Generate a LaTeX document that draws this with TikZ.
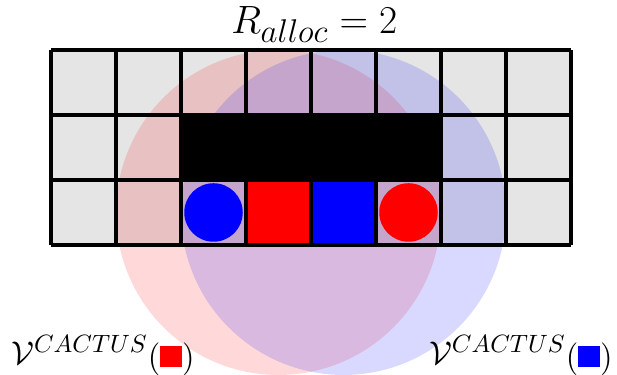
\documentclass[tikz,border=0pt]{standalone}
\usepackage{amsmath}
\newcommand{\tokbox}[1]{\raisebox{-1.2pt}{$(\textcolor{#1}{\rule{0.62em}{0.62em}})$}}
\begin{document}
\begin{tikzpicture}[x=1cm,y=1cm,
  cellfill/.style={fill=black!10},
  gridline/.style={line width=1.4pt, black},
  zone/.style={opacity=0.15},
  lbl/.style={inner sep=0pt, font=\fontsize{15.3}{18}\selectfont},
  ttl/.style={inner sep=0pt, font=\fontsize{19}{22}\selectfont}]
\useasboundingbox (-0.785,-2.0) rectangle (8.708,3.769);
% grey cells
\fill[cellfill] (0,0) rectangle (8,3);
% vulnerability zones
\fill[red,zone] (3.5,0.5) circle (2.5);
\fill[blue,zone] (4.5,0.5) circle (2.5);
% obstacle
\fill[black] (2,1) rectangle (6,2);
% tokens
\fill[red] (3,0) rectangle (4,1);
\fill[blue] (4,0) rectangle (5,1);
\node[circle, fill=blue, minimum size=0.9cm, inner sep=0pt] (bc) at (2.5,0.5) {};
\node[circle, fill=red, minimum size=0.9cm, inner sep=0pt] (rc) at (5.5,0.5) {};
% grid
\draw[gridline] (0,0) grid (8,3);
% labels
\node[ttl, anchor=base] (title) at (4.05,3.26) {$R_{alloc} = 2$};
\node[lbl, anchor=base west] (vr) at (-0.62,-1.84) {$\mathcal{V}^{CACTUS}$\tokbox{red}};
\node[lbl, anchor=base east] (vb) at (8.646,-1.84) {$\mathcal{V}^{CACTUS}$\tokbox{blue}};
\end{tikzpicture}
\end{document}
